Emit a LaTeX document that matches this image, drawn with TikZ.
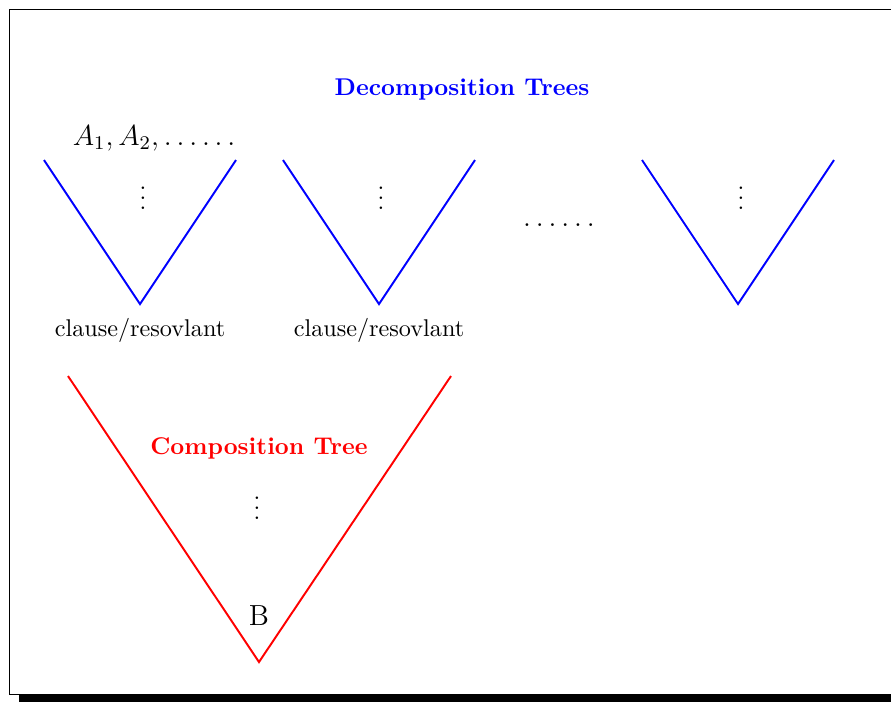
\documentclass[tikz,border=0pt]{standalone}
\begin{document}
\begin{tikzpicture}[x=0.4132pt, y=-0.4132pt,
        decomp/.style={blue, line width=0.8pt},
        comp/.style={red, line width=0.8pt},
        title/.style={font=\bfseries, inner sep=0pt, anchor=base},
        label/.style={inner sep=0pt, anchor=base}
    ]

    \clip (0,0) rectangle (891,701);

    % Frame with shadow
    \fill (19,695) rectangle (910,712);
    \draw[line width=0.4pt] (9,9) rectangle (905,694);

    % Decomposition trees
    \node[title, text=blue] (dtitle) at (462,95) {Decomposition Trees};

    \coordinate (t1l) at (44,160); \coordinate (t1b) at (140,304); \coordinate (t1r) at (236,160);
    \coordinate (t2l) at (283,160); \coordinate (t2b) at (379,304); \coordinate (t2r) at (475,160);
    \coordinate (t3l) at (642,160); \coordinate (t3b) at (738,304); \coordinate (t3r) at (834,160);
    \draw[decomp] (t1l) -- (t1b) -- (t1r);
    \draw[decomp] (t2l) -- (t2b) -- (t2r);
    \draw[decomp] (t3l) -- (t3b) -- (t3r);

    \node[label, anchor=base east, font=\large] (axioms) at (t1r |- 0,145) {$A_1, A_2, \ldots\ldots$};
    \node[label] (v1) at (143,209) {$\vdots$};
    \node[label] (v2) at (381,209) {$\vdots$};
    \node[label] (v3) at (741,209) {$\vdots$};
    \node[label, font=\large] (hdots) at (559,226) {$\ldots\ldots$};

    \node[label] (c1) at (t1b |- 0,336) {clause/resovlant};
    \node[label] (c2) at (t2b |- 0,336) {clause/resovlant};

    % Composition tree
    \coordinate (cl) at (68,376); \coordinate (cb) at (259,662); \coordinate (cr) at (451,376);
    \draw[comp] (cl) -- (cb) -- (cr);
    \node[title, text=red] (ctitle) at (259,454) {Composition Tree};
    \node[label] (v4) at (257,519) {$\vdots$};
    \node[label, font=\large] (goal) at (259,625) {B};

\end{tikzpicture}
\end{document}
